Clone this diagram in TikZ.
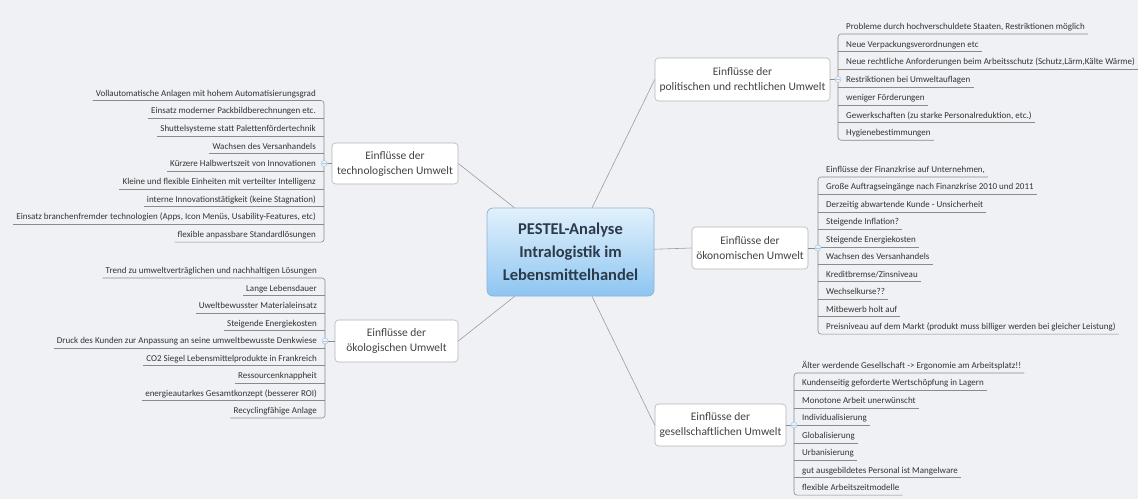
\documentclass[tikz,border=0pt]{standalone}
\usepackage{fontspec}
\setmainfont{Carlito}
\usetikzlibrary{shadings}

\definecolor{bgcol}{HTML}{EFF1F5}
\definecolor{linkcol}{HTML}{9C9C9C}
\definecolor{treecol}{HTML}{8A8A8A}
\definecolor{boxline}{HTML}{B5B5B5}
\definecolor{boxtext}{HTML}{434343}
\definecolor{itemtext}{HTML}{333333}
\definecolor{coretop}{HTML}{E2F1FC}
\definecolor{corebot}{HTML}{8DC5F1}
\definecolor{coreline}{HTML}{8DB1D3}
\definecolor{coretext}{HTML}{2C3A49}
\definecolor{knobcol}{HTML}{A9C9E6}

\tikzset{
  core/.style={draw=coreline, line width=0.7pt, rounded corners=6pt,
    top color=coretop, bottom color=corebot, align=center,
    text=coretext, font=\fontsize{16.5}{23}\selectfont\bfseries,
    minimum width=167pt, minimum height=88pt, inner sep=0pt},
  topic/.style={draw=boxline, line width=0.6pt, fill=white, rounded corners=3.5pt,
    align=center, text=boxtext, font=\fontsize{11.5}{15}\selectfont,
    inner sep=0pt},
  item/.style={inner xsep=3pt, inner ysep=2pt, text height=6.5pt, text depth=2.3pt,
    text=itemtext, font=\fontsize{9}{10.8}\selectfont},
  ritem/.style={item, anchor=south west, execute at begin node=\hspace*{5pt}},
  litem/.style={item, anchor=south east, execute at end node=\hspace*{5pt}},
  link/.style={draw=linkcol, line width=0.6pt},
  tree/.style={draw=treecol, line width=0.6pt},
  knob/.style={circle, draw=knobcol, fill=bgcol, line width=0.5pt,
    minimum size=6pt, inner sep=0pt,
    path picture={\draw[knobcol, line width=0.5pt]
      ([xshift=-1.8pt]path picture bounding box.center) --
      ([xshift=1.8pt]path picture bounding box.center);}}
}

% #1 prefix, #2 item style, #3 spine x, #4 first underline y, #5 pitch, #6 items
\newcommand\subtree[6]{%
  \foreach \t [count=\i] in {#6} {
    \node[#2] (#1-\i) at (#3, {#4+#5*(\i-1)}) {\t};
    \xdef\itemcount{\i}
  }
  \pgfmathtruncatemacro\innerlast{\itemcount-1}
  \foreach \j in {2,...,\innerlast} {
    \draw[tree] (#1-\j.south west) -- (#1-\j.south east);
  }
}

\begin{document}
\begin{tikzpicture}[x=1pt, y=-1pt]
  \fill[bgcol] (0,0) rectangle (1138,499);
  \useasboundingbox (0,0) rectangle (1138,499);

  % central topic and the five main topics
  \node[core] (core) at (570.5,252) {PESTEL-Analyse\\Intralogistik im\\Lebensmittelhandel};
  \node[topic, minimum width=126pt, minimum height=41pt] (tec) at (395,163.5)
    {Einflüsse der\\technologischen Umwelt};
  \node[topic, minimum width=123pt, minimum height=42pt] (eco) at (396.5,341)
    {Einflüsse der\\ökologischen Umwelt};
  \node[topic, minimum width=175pt, minimum height=43pt] (pol) at (742.5,79.5)
    {Einflüsse der\\politischen und rechtlichen Umwelt};
  \node[topic, minimum width=116pt, minimum height=42pt] (oek) at (750,248)
    {Einflüsse der\\ökonomischen Umwelt};
  \node[topic, minimum width=131pt, minimum height=42pt] (soc) at (720.5,425)
    {Einflüsse der\\gesellschaftlichen Umwelt};

  \draw[link] (core) -- (tec.east);
  \draw[link] (core) -- (eco.east);
  \draw[link] (core) -- (pol.west);
  \draw[link] (core) -- (oek.west);
  \draw[link] (core) -- (soc.west);

  % technological influences
  \subtree{t}{litem}{324}{100.5}{17.7}{
    Vollautomatische Anlagen mit hohem Automatisierungsgrad,
    Einsatz moderner Packbildberechnungen etc.,
    Shuttelsysteme statt Palettenfördertechnik,
    Wachsen des Versanhandels,
    Kürzere Halbwertszeit von Innovationen,
    Kleine und flexible Einheiten mit verteilter Intelligenz,
    interne Innovationstätigkeit (keine Stagnation),
    {Einsatz branchenfremder technologien (Apps, Icon Menüs, Usability-Features, etc)},
    flexible anpassbare Standardlösungen}
  \draw[tree, rounded corners=3pt] (t-1.south west) -- (t-1.south east)
    -- (t-9.south east) -- (t-9.south west);
  \coordinate (tec-k) at (324,163.5);
  \draw[tree] (tec.west) -- (tec-k);
  \node[knob] at (tec-k) {};

  % ecological influences
  \subtree{e}{litem}{325}{278}{17.5}{
    Trend zu umweltverträglichen und nachhaltigen Lösungen,
    Lange Lebensdauer,
    Uweltbewusster Materialeinsatz,
    Steigende Energiekosten,
    Druck des Kunden zur Anpassung an seine umweltbewusste Denkwiese,
    CO2 Siegel Lebensmittelprodukte in Frankreich,
    Ressourcenknappheit,
    energieautarkes Gesamtkonzept (besserer ROI),
    Recyclingfähige Anlage}
  \draw[tree, rounded corners=3pt] (e-1.south west) -- (e-1.south east)
    -- (e-9.south east) -- (e-9.south west);
  \coordinate (eco-k) at (325,341);
  \draw[tree] (eco.west) -- (eco-k);
  \node[knob] at (eco-k) {};

  % political and legal influences
  \subtree{p}{ritem}{838}{34}{17.7}{
    {Probleme durch hochverschuldete Staaten, Restriktionen möglich},
    Neue Verpackungsverordnungen etc,
    {Neue rechtliche Anforderungen beim Arbeitsschutz (Schutz,Lärm,Kälte Wärme)},
    Restriktionen bei Umweltauflagen,
    weniger Förderungen,
    {Gewerkschaften (zu starke Personalreduktion, etc.)},
    Hygienebestimmungen}
  \draw[tree, rounded corners=3pt] (p-1.south east) -- (p-1.south west)
    -- (p-7.south west) -- (p-7.south east);
  \coordinate (pol-k) at (838,79.5);
  \draw[tree] (pol.east) -- (pol-k);
  \node[knob] at (pol-k) {};

  % economic influences
  \subtree{o}{ritem}{818}{177}{17.45}{
    {Einflüsse der Finanzkrise auf Unternehmen,},
    Große Auftragseingänge nach Finanzkrise 2010 und 2011,
    Derzeitig abwartende Kunde - Unsicherheit,
    Steigende Inflation?,
    Steigende Energiekosten,
    Wachsen des Versanhandels,
    Kreditbremse/Zinsniveau,
    Wechselkurse??,
    Mitbewerb holt auf,
    Preisniveau auf dem Markt (produkt muss billiger werden bei gleicher Leistung)}
  \draw[tree, rounded corners=3pt] (o-1.south east) -- (o-1.south west)
    -- (o-10.south west) -- (o-10.south east);
  \coordinate (oek-k) at (818,248);
  \draw[tree] (oek.east) -- (oek-k);
  \node[knob] at (oek-k) {};

  % social influences
  \subtree{s}{ritem}{794}{373}{17.45}{
    Älter werdende Gesellschaft -> Ergonomie am Arbeitsplatz!!,
    Kundenseitig geforderte Wertschöpfung in Lagern,
    Monotone Arbeit unerwünscht,
    Individualisierung,
    Globalisierung,
    Urbanisierung,
    gut ausgebildetes Personal ist Mangelware,
    flexible Arbeitszeitmodelle}
  \draw[tree, rounded corners=3pt] (s-1.south east) -- (s-1.south west)
    -- (s-8.south west) -- (s-8.south east);
  \coordinate (soc-k) at (794,425);
  \draw[tree] (soc.east) -- (soc-k);
  \node[knob] at (soc-k) {};
\end{tikzpicture}
\end{document}
